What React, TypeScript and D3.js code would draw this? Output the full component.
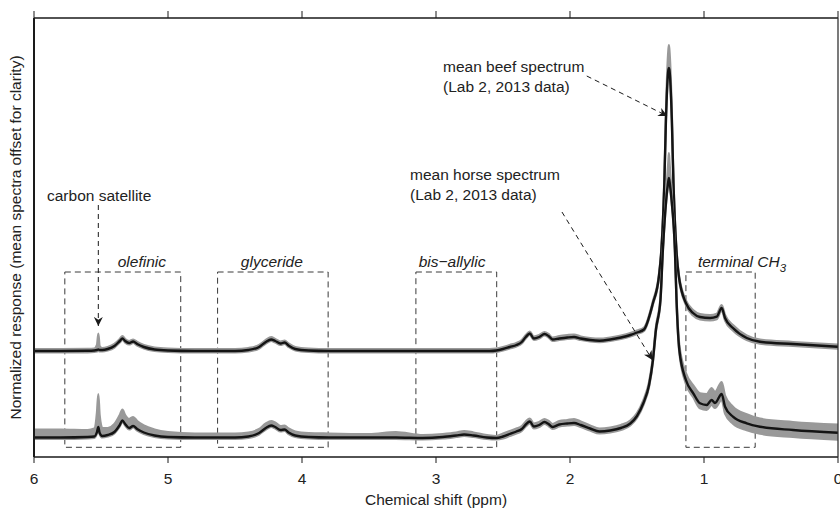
import React from "react";
import * as d3 from "d3";

// [ppm, mean intensity, gray spread up, gray spread down]
const beefSpectrum: [number, number, number, number][] = [
  [6.0, 106, 2, 1.5], [5.8, 106, 2, 1.5], [5.6, 106.2, 2, 1.5], [5.55, 106.5, 2, 1.5],
  [5.53, 107, 5, 1.5], [5.52, 107.5, 16, 1.5], [5.51, 107, 4, 1.5], [5.49, 107, 2, 1.5],
  [5.45, 108, 2, 1.5], [5.4, 111, 2, 1.5], [5.36, 116, 2, 1.5], [5.34, 118.5, 2.5, 1.5],
  [5.32, 116, 2, 1.5], [5.29, 114, 2, 1.5], [5.26, 115.5, 2, 1.5], [5.23, 113, 2, 1.5],
  [5.18, 110, 2, 1.5], [5.1, 107.5, 2, 1.5], [5.0, 106.5, 2, 1.5], [4.8, 106, 2, 1.5],
  [4.5, 106, 2, 1.5], [4.4, 107, 2, 1.5], [4.32, 110, 2, 1.5], [4.27, 115, 2, 1.5],
  [4.23, 117.5, 2.5, 1.5], [4.2, 116, 2, 1.5], [4.16, 113.5, 2, 1.5], [4.13, 114.5, 2, 1.5],
  [4.1, 111.5, 2, 1.5], [4.05, 108, 2, 1.5], [3.95, 106.5, 2, 1.5], [3.8, 106, 2, 1.5],
  [3.5, 106, 2, 1.5], [3.1, 106, 2, 1.5], [2.8, 106, 2, 1.5], [2.6, 106, 2, 1.5],
  [2.55, 106.5, 2, 1.5], [2.5, 108, 2, 1.5], [2.45, 110, 2, 1.5], [2.4, 112, 2, 1.5],
  [2.36, 115, 2, 1.5], [2.33, 120, 2, 1.5], [2.3, 123.5, 2, 1.5], [2.27, 118.5, 2, 1.5],
  [2.23, 120, 2, 1.5], [2.19, 123, 2, 1.5], [2.16, 121, 2, 1.5], [2.13, 117.5, 2, 1.5],
  [2.08, 118.5, 2.5, 1.5], [2.02, 119.5, 2.5, 1.5], [1.97, 120, 2.5, 1.5], [1.92, 118.5, 2, 1.5],
  [1.85, 117, 2, 1.5], [1.78, 116.3, 2, 1.5], [1.7, 117.5, 2, 1.5], [1.62, 119.5, 2, 1.5],
  [1.55, 122, 2, 1.5], [1.5, 124.5, 2, 1.5], [1.448, 127.5, 2, 1.5], [1.381, 154, 2, 1.5],
  [1.337, 180, 2, 1.5], [1.318, 207, 2, 1.5], [1.303, 247, 2, 1.5], [1.296, 274, 3, 1.5],
  [1.284, 337, 8, 1.5], [1.266, 387, 20, 1.5], [1.262, 389, 23, 1.5], [1.258, 387, 20, 1.5],
  [1.24, 337, 8, 1.5], [1.228, 274, 3, 1.5], [1.221, 247, 2, 1.5], [1.206, 207, 2, 1.5],
  [1.187, 180, 2, 1.5], [1.135, 154, 2.5, 2], [1.082, 144, 3, 2.5], [1.03, 140, 3, 2.5],
  [0.955, 139, 3, 2.5], [0.905, 140.3, 3, 2.5], [0.868, 149, 3, 2.5], [0.843, 139, 3, 2.5],
  [0.784, 129, 3, 2.5], [0.681, 119, 2.5, 2], [0.582, 115.3, 2, 2], [0.336, 113, 2, 2],
  [0.0, 110.3, 2, 2],
];

const horseSpectrum: [number, number, number, number][] = [
  [6.0, 19.5, 8, 1.5], [5.8, 19.5, 8, 1.5], [5.6, 20, 7, 1.5], [5.55, 20.5, 8, 1.5],
  [5.53, 25, 20, 1.5], [5.52, 30, 33, 1.5], [5.51, 24, 18, 1.5], [5.49, 21, 8, 1.5],
  [5.45, 22, 7, 1.5], [5.4, 25, 8, 1.5], [5.36, 32, 10, 1.5], [5.34, 36.5, 11, 1.5],
  [5.32, 33, 9, 1.5], [5.29, 29, 9, 1.5], [5.26, 31, 9, 1.5], [5.23, 28, 8, 1.5],
  [5.18, 24.5, 7, 1.5], [5.1, 21.5, 6, 1.5], [5.0, 20, 5, 1.5], [4.8, 19.5, 4, 1.5],
  [4.5, 19.5, 4, 1.5], [4.4, 20.5, 4, 1.5], [4.32, 24, 4, 1.5], [4.27, 29, 4.5, 1.5],
  [4.23, 31.5, 4.5, 1.5], [4.2, 30, 4.5, 1.5], [4.16, 27, 4, 1.5], [4.13, 27.5, 4, 1.5],
  [4.1, 24.5, 4, 1.5], [4.05, 21.5, 4, 1.5], [3.95, 20, 4, 1.5], [3.8, 19.5, 4, 1.5],
  [3.5, 19.5, 3.5, 1.5], [3.3, 19.5, 5.5, 1.5], [3.1, 19, 3, 1.5], [2.95, 20, 3, 1.5],
  [2.85, 21.5, 3, 1.5], [2.79, 22.5, 3.5, 1.5], [2.72, 21.5, 3, 1.5], [2.62, 19.5, 2.5, 1.5],
  [2.55, 19, 2, 1.5], [2.5, 20.5, 3, 2], [2.45, 23, 3, 2], [2.4, 25.5, 3, 2],
  [2.36, 28, 3, 2], [2.33, 32.5, 3, 2], [2.3, 35.5, 3, 2], [2.27, 30.5, 3, 2],
  [2.23, 32, 3, 2], [2.19, 35, 3, 2], [2.16, 33, 3, 2], [2.13, 30, 3, 2],
  [2.08, 32.5, 3.5, 2], [2.02, 33.5, 3.5, 2], [1.97, 34, 4, 2], [1.92, 32, 3.5, 2],
  [1.85, 28.5, 3, 2], [1.78, 25.5, 3, 2], [1.7, 26.5, 3, 2], [1.62, 29, 3, 2],
  [1.55, 33.5, 3, 2], [1.5, 41, 3, 2], [1.453, 53.7, 3, 2], [1.41, 72, 3, 2],
  [1.381, 97, 3, 2], [1.359, 127, 3, 2], [1.325, 157, 3, 2], [1.307, 207, 3, 2],
  [1.282, 257, 8, 2], [1.266, 276, 20, 2], [1.262, 279, 25, 2], [1.258, 276, 20, 2],
  [1.242, 257, 8, 2], [1.217, 207, 3, 2], [1.205, 157, 4, 3], [1.184, 107, 5, 3],
  [1.135, 77, 7, 4], [1.08, 63.7, 8, 4], [1.03, 53.7, 10, 5], [0.98, 52, 11, 5],
  [0.943, 57, 12, 5], [0.918, 54, 11, 5], [0.868, 63, 12, 6], [0.843, 50.3, 11, 7],
  [0.784, 40.3, 10, 7], [0.681, 33.7, 9, 7], [0.582, 30.3, 8, 7], [0.336, 27, 8, 7],
  [0.0, 24.3, 8, 7],
];

const ppmTicks = [6, 5, 4, 3, 2, 1, 0];

// region boxes: label, ppm from, ppm to, label ppm
const regionNames = ["olefinic", "glyceride", "bis\u2212allylic", "terminal CH"];
const regionFrom = [5.77, 4.63, 3.15, 1.135];
const regionTo = [4.905, 3.805, 2.547, 0.618];
const regionLabelPpm = [5.195, 4.225, 2.88, 0.716];
const boxTop = 185;
const boxBottom = 9.7;
const labelLevel = 190.5;

// arrows: [ppm start, value start, ppm end, value end]
const arrows: [number, number, number, number][] = [
  [5.52, 252, 5.52, 131],
  [1.875, 381, 1.274, 341],
  [2.06, 245, 1.385, 97],
];

const W = 840;
const H = 509;
const x = d3.scaleLinear().domain([6, 0]).range([34, 838]);
const y = d3.scaleLinear().domain([0, 439]).range([457, 18]);

const FONT = "'Liberation Sans', Arial, Helvetica, sans-serif";
const FS = 15.5;

function Spectrum({ data }: { data: [number, number, number, number][] }) {
  const area = d3
    .area<[number, number, number, number]>()
    .x((d) => x(d[0]))
    .y0((d) => y(d[1] - d[3]))
    .y1((d) => y(d[1] + d[2]))
    .curve(d3.curveMonotoneX);
  const upper = d3
    .line<[number, number, number, number]>()
    .x((d) => x(d[0]))
    .y((d) => y(d[1] + d[2]))
    .curve(d3.curveMonotoneX);
  const lower = d3
    .line<[number, number, number, number]>()
    .x((d) => x(d[0]))
    .y((d) => y(d[1] - d[3]))
    .curve(d3.curveMonotoneX);
  const mean = d3
    .line<[number, number, number, number]>()
    .x((d) => x(d[0]))
    .y((d) => y(d[1]))
    .curve(d3.curveMonotoneX);
  return (
    <g>
      <path d={area(data) || ""} fill="#999" stroke="none" />
      <path d={upper(data) || ""} fill="none" stroke="#999" strokeWidth={2.2} />
      <path d={lower(data) || ""} fill="none" stroke="#999" strokeWidth={2.2} />
      <path d={mean(data) || ""} fill="none" stroke="#141414" strokeWidth={2.4} strokeLinejoin="round" />
    </g>
  );
}

export default function App() {
  const x0 = x(6);
  const x1 = x(0);
  const yTop = y(439);
  const yBot = y(0);
  return (
    <svg
      width={W}
      height={H}
      style={{ position: "absolute", left: 0, top: 0, background: "#fff" }}
      fontFamily={FONT}
    >
      <defs>
        <marker
          id="arrowhead"
          viewBox="0 0 10 10"
          refX={10}
          refY={5}
          markerWidth={11}
          markerHeight={9}
          markerUnits="userSpaceOnUse"
          orient="auto"
        >
          <path d="M0,0 L10,5 L0,10 L3,5 z" fill="#1a1a1a" />
        </marker>
      </defs>

      {/* region boxes */}
      {regionNames.map((n, i) => (
        <rect
          key={"box" + i}
          x={x(regionFrom[i])}
          y={y(boxTop)}
          width={x(regionTo[i]) - x(regionFrom[i])}
          height={y(boxBottom) - y(boxTop)}
          fill="none"
          stroke="#3a3a3a"
          strokeWidth={1}
          strokeDasharray="6,4"
        />
      ))}

      <Spectrum data={beefSpectrum} />
      <Spectrum data={horseSpectrum} />

      {/* region labels */}
      {regionNames.map((n, i) => (
        <text
          key={"lab" + i}
          x={x(regionLabelPpm[i])}
          y={y(labelLevel)}
          textAnchor="middle"
          fontSize={FS}
          fontStyle="italic"
          fill="#222"
        >
          {n}
          {i === 3 ? (
            <tspan dy={5} fontSize={11.5}>
              3
            </tspan>
          ) : null}
        </text>
      ))}

      {/* arrows */}
      {arrows.map((a, i) => (
        <line
          key={"arr" + i}
          x1={x(a[0])}
          y1={y(a[1])}
          x2={x(a[2])}
          y2={y(a[3])}
          stroke="#1a1a1a"
          strokeWidth={1}
          strokeDasharray="5,4"
          markerEnd="url(#arrowhead)"
        />
      ))}

      {/* annotations */}
      <text x={47} y={201} fontSize={FS} fill="#222">
        carbon satellite
      </text>
      <text x={443} y={71.5} fontSize={FS} fill="#222">
        mean beef spectrum
      </text>
      <text x={443} y={92} fontSize={FS} fill="#222">
        (Lab 2, 2013 data)
      </text>
      <text x={410} y={180} fontSize={FS} fill="#222">
        mean horse spectrum
      </text>
      <text x={410} y={200} fontSize={FS} fill="#222">
        (Lab 2, 2013 data)
      </text>

      {/* axes frame */}
      <line x1={x0} y1={yTop} x2={x1} y2={yTop} stroke="#1a1a1a" strokeWidth={1.3} />
      <line x1={x0} y1={yBot} x2={x1} y2={yBot} stroke="#1a1a1a" strokeWidth={1.3} />
      <line x1={x0} y1={yTop} x2={x0} y2={yBot} stroke="#1a1a1a" strokeWidth={2} />
      <line x1={x1} y1={yTop} x2={x1} y2={yBot} stroke="#333" strokeWidth={1.3} />
      {ppmTicks.map((t) => (
        <g key={"t" + t}>
          <line x1={x(t)} x2={x(t)} y1={yBot} y2={yBot + 6} stroke="#1a1a1a" strokeWidth={1} />
          <line x1={x(t)} x2={x(t)} y1={yTop} y2={yTop - 7} stroke="#1a1a1a" strokeWidth={1} />
          <text x={x(t)} y={483.5} textAnchor="middle" fontSize={FS} fill="#222">
            {t}
          </text>
        </g>
      ))}
      <text x={(x0 + x1) / 2} y={505} textAnchor="middle" fontSize={FS} fill="#222">
        Chemical shift (ppm)
      </text>
      <text
        transform={`translate(20.5, ${(yTop + yBot) / 2}) rotate(-90)`}
        textAnchor="middle"
        fontSize={FS}
        fill="#222"
      >
        Normalized response (mean spectra offset for clarity)
      </text>
    </svg>
  );
}
